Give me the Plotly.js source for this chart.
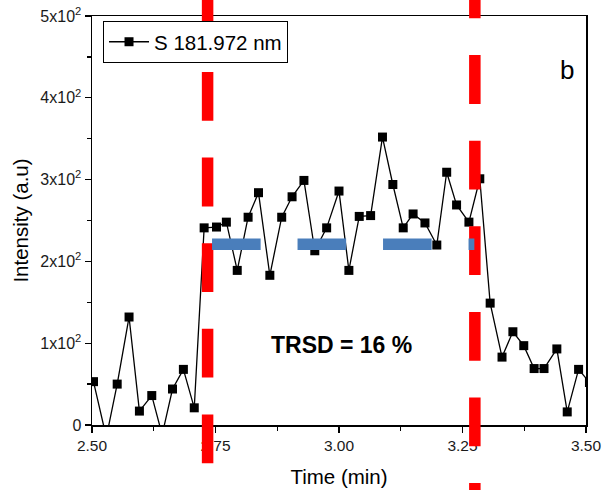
<!DOCTYPE html>
<html>
<head>
<meta charset="utf-8">
<script src="https://cdn.plot.ly/plotly-3.0.1.min.js"></script>
<style>
  html, body { margin: 0; padding: 0; background: #fff; overflow: hidden; }
  #chart { width: 604px; height: 490px; }
</style>
</head>
<body>
<div id="chart"></div>
<script>
// ---- data ----
const timeMin = [2.503, 2.529, 2.551, 2.575, 2.596, 2.621, 2.642, 2.663, 2.685, 2.707,
  2.727, 2.752, 2.772, 2.794, 2.816, 2.837, 2.860, 2.884, 2.905, 2.929,
  2.951, 2.975, 3.000, 3.020, 3.041, 3.064, 3.088, 3.109, 3.130, 3.150,
  3.174, 3.198, 3.218, 3.238, 3.263, 3.285, 3.306, 3.330, 3.352, 3.374,
  3.395, 3.415, 3.441, 3.462, 3.485, 3.507];
const intensity = [53, -15, 50, 132, 17, 36, -12, 44, 68, 21,
  241, 242, 248, 189, 254, 284, 183, 254, 279, 299,
  213, 241, 286, 189, 255, 256, 352, 294, 241, 258,
  247, 220, 309, 269, 248, 301, 149, 83, 114, 97,
  69, 69, 93, 16, 68, 52];
const seriesName = 'S 181.972 nm';

// integration window markers (red dashed) and mean level (blue dashed)
const windowTimes = [2.734, 3.275];
const levelTimes = [2.743, 3.274];
const levelValue = 221;

// tick labels
const xTickVals = [2.50, 2.75, 3.00, 3.25, 3.50];
const xTickText = ['2.50', '2.75', '3.00', '3.25', '3.50'];
const yTickVals = [0, 100, 200, 300, 400, 500];
const yTickText = ['0', '1x10<sup>2</sup>', '2x10<sup>2</sup>', '3x10<sup>2</sup>', '4x10<sup>2</sup>', '5x10<sup>2</sup>'];
const xMinor = [2.625, 2.875, 3.125, 3.375];
const yMinor = [50, 150, 250, 350, 450];

const FONT = 'Liberation Sans, Arial, Helvetica, sans-serif';

const trace = {
  x: timeMin, y: intensity, name: seriesName,
  type: 'scatter', mode: 'lines+markers',
  line: { color: '#000', width: 1.3 },
  marker: { symbol: 'square', size: 9, color: '#000' },
  cliponaxis: true, showlegend: true
};

const dashPat = '48.8px,36.8px';
const shapes = [
  { type: 'line', xref: 'x', yref: 'paper', x0: windowTimes[0], x1: windowTimes[0], y0: 1.0724, y1: -0.19,
    line: { color: '#ff0000', width: 11.5, dash: dashPat }, layer: 'above' },
  { type: 'line', xref: 'x', yref: 'paper', x0: windowTimes[1], x1: windowTimes[1], y0: 1.1137, y1: -0.19,
    line: { color: '#ff0000', width: 11.5, dash: dashPat }, layer: 'above' },
  { type: 'line', xref: 'x', yref: 'y', x0: levelTimes[0], x1: levelTimes[1], y0: levelValue, y1: levelValue,
    line: { color: '#4a7ebb', width: 11.5, dash: '48.6px,36.9px' }, layer: 'above' }
];

const axisCommon = {
  showline: true, linecolor: '#000', linewidth: 1.5, mirror: true,
  ticks: 'outside', ticklen: 6, tickwidth: 1.3, tickcolor: '#000',
  showgrid: false, zeroline: false
};

const layout = {
  width: 604, height: 490,
  margin: { l: 92, r: 18, t: 16, b: 65 },
  paper_bgcolor: '#fff', plot_bgcolor: '#fff',
  font: { family: FONT, color: '#000' },
  xaxis: Object.assign({}, axisCommon, {
    range: [2.5, 3.5], tickmode: 'array', tickvals: xTickVals, ticktext: xTickText,
    tickfont: { family: FONT, size: 15.5, color: '#1a1a1a' },
    minor: { tickvals: xMinor, ticks: 'outside', ticklen: 4, tickwidth: 1.3, tickcolor: '#000', showgrid: false },
    title: { text: 'Time (min)', font: { family: FONT, size: 20.5, color: '#000' }, standoff: 16 }
  }),
  yaxis: Object.assign({}, axisCommon, {
    range: [0, 500], tickmode: 'array', tickvals: yTickVals, ticktext: yTickText,
    tickfont: { family: FONT, size: 16, color: '#1a1a1a' },
    minor: { tickvals: yMinor, ticks: 'outside', ticklen: 4, tickwidth: 1.3, tickcolor: '#000', showgrid: false },
    title: { text: 'Intensity (a.u)', font: { family: FONT, size: 20.5, color: '#000' }, standoff: 6 }
  }),
  showlegend: true,
  legend: {
    x: 0.0223, y: 0.988, xanchor: 'left', yanchor: 'top',
    bgcolor: '#fff', bordercolor: '#000', borderwidth: 1,
    font: { family: FONT, size: 20.5, color: '#000' },
    itemwidth: 40
  },
  shapes: shapes,
  annotations: [
    { xref: 'paper', yref: 'paper', x: 0.9615, y: 0.868, text: 'b', showarrow: false,
      font: { family: FONT, size: 26, color: '#000' }, xanchor: 'center', yanchor: 'middle' },
    { xref: 'paper', yref: 'paper', x: 0.5057, y: 0.1956, text: '<b>TRSD = 16 %</b>', showarrow: false,
      font: { family: FONT, size: 23, color: '#000' }, xanchor: 'center', yanchor: 'middle' }
  ]
};

// Reference: red window markers are drawn over the legend, and the legend box is compact.
function fixLegend(gd) {
  const svgs = gd.querySelectorAll('svg.main-svg');
  if (!svgs.length) return;
  const paper = svgs[0];
  let above = null;
  for (const ch of paper.children) { if (ch.classList && ch.classList.contains('layer-above')) above = ch; }
  const lg = gd.querySelector('g.legend');
  if (!lg || !above) return;
  if (lg.parentNode !== paper) paper.insertBefore(lg, above);
  const bg = lg.querySelector('rect.bg');
  const sb = lg.querySelector('g.scrollbox');
  if (bg && sb) {
    const h = parseFloat(bg.getAttribute('height'));
    const target = 30;
    if (h > target) {
      bg.setAttribute('height', target);
      sb.setAttribute('transform', 'translate(0,' + (-(h - target) / 2) + ')');
    }
  }
}

Plotly.newPlot('chart', [trace], layout, { staticPlot: true, displayModeBar: false }).then(function (gd) {
  fixLegend(gd);
  let n = 0;
  const iv = setInterval(function () {
    fixLegend(gd);
    if (++n > 60) clearInterval(iv);
  }, 25);
});
</script>
</body>
</html>
